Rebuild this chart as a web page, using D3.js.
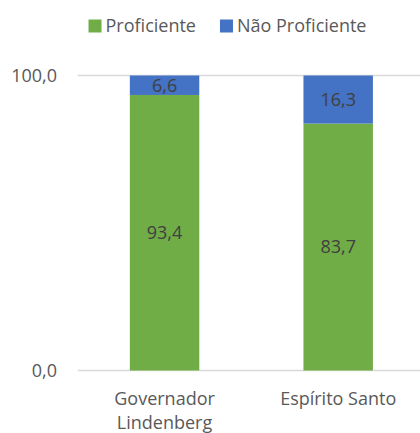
<!DOCTYPE html>
<html lang="pt">
	<head>
		<meta charset="UTF-8">
		<title>Proficiência</title>
		<script src="https://cdn.jsdelivr.net/npm/d3@7"></script>
		<style>
			body { margin: 0; background: #fff; }
			text { font-family: "Open Sans", sans-serif; }
		</style>
	</head>
	<body>
		<div id="chart"></div>
		<script>
			const categories = ["Governador Lindenberg", "Espírito Santo"];
			const proficiente = [93.4, 83.7];
			const naoProficiente = [6.6, 16.3];
			const seriesNames = ["Proficiente", "Não Proficiente"];
			const seriesColors = ["#70AD47", "#4472C4"];
			const yTicks = [0, 100];

			const w = 420;
			const h = 433;
			const plotLeft = 77.75;
			const plotRight = 425;
			const plotTop = 75.5;
			const plotBottom = 370.5;

			const svg = d3.select("#chart")
						  .append("svg")
						  .attr("width", w)
						  .attr("height", h);

			const ptBR = d3.formatLocale({ decimal: ",", thousands: ".", grouping: [3], currency: ["R$", ""] });
			const fmt = ptBR.format(".1f");

			const xScale = d3.scaleBand()
							 .domain(categories)
							 .range([plotLeft, plotRight])
							 .paddingInner(0.6)
							 .paddingOuter(0.3);

			const yScale = d3.scaleLinear()
							 .domain([0, 100])
							 .range([plotBottom, plotTop]);

			// stacked data
			const rows = categories.map((c, i) => ({ cat: c, Proficiente: proficiente[i], "Não Proficiente": naoProficiente[i] }));
			const stacked = d3.stack().keys(seriesNames)(rows);

			// gridlines
			svg.append("g")
			   .selectAll("line")
			   .data(yTicks)
			   .enter()
			   .append("line")
			   .attr("x1", plotLeft)
			   .attr("x2", w)
			   .attr("y1", d => yScale(d))
			   .attr("y2", d => yScale(d))
			   .attr("stroke", "#D9D9D9")
			   .attr("stroke-width", 1.5);

			// y labels
			svg.append("g")
			   .selectAll("text")
			   .data(yTicks)
			   .enter()
			   .append("text")
			   .attr("x", 57)
			   .attr("y", d => yScale(d))
			   .attr("dy", "0.35em")
			   .attr("text-anchor", "end")
			   .attr("fill", "#595959")
			   .style("font-size", "18px")
			   .text(d => fmt(d));

			// bars
			const layers = svg.append("g")
			   .selectAll("g")
			   .data(stacked)
			   .enter()
			   .append("g")
			   .attr("fill", (d, i) => seriesColors[i]);

			layers.selectAll("rect")
				  .data(d => d)
				  .enter()
				  .append("rect")
				  .attr("x", d => xScale(d.data.cat))
				  .attr("y", d => yScale(d[1]))
				  .attr("width", xScale.bandwidth())
				  .attr("height", d => yScale(d[0]) - yScale(d[1]));

			// value labels
			layers.selectAll("text")
				  .data(d => d)
				  .enter()
				  .append("text")
				  .attr("x", d => xScale(d.data.cat) + xScale.bandwidth() / 2)
				  .attr("y", d => (yScale(d[0]) + yScale(d[1])) / 2)
				  .attr("dy", "0.35em")
				  .attr("text-anchor", "middle")
				  .attr("fill", "#404040")
				  .style("font-size", "18px")
				  .text(d => fmt(d[1] - d[0]));

			// category labels, wrapped
			const catLabels = svg.append("g")
			   .selectAll("text")
			   .data(categories)
			   .enter()
			   .append("text")
			   .attr("x", d => xScale(d) + xScale.bandwidth() / 2)
			   .attr("y", 405)
			   .attr("text-anchor", "middle")
			   .attr("fill", "#595959")
			   .style("font-size", "18px");

			catLabels.each(function(d) {
				const el = d3.select(this);
				const words = d.split(" ");
				let line = [];
				let tspan = el.append("tspan").attr("x", el.attr("x")).attr("dy", 0);
				words.forEach(word => {
					line.push(word);
					tspan.text(line.join(" "));
					if (tspan.node().getComputedTextLength() > xScale.step() - 10 && line.length > 1) {
						line.pop();
						tspan.text(line.join(" "));
						line = [word];
						tspan = el.append("tspan").attr("x", el.attr("x")).attr("dy", "1.35em").text(word);
					}
				});
			});

			// legend
			const legend = svg.append("g");
			const items = legend.selectAll("g")
				.data(seriesNames)
				.enter()
				.append("g");

			items.append("rect")
				 .attr("width", 13)
				 .attr("height", 13)
				 .attr("y", 19.5)
				 .attr("fill", (d, i) => seriesColors[i]);

			items.append("text")
				 .attr("x", 17)
				 .attr("y", 26)
				 .attr("dy", "0.35em")
				 .attr("fill", "#595959")
				 .style("font-size", "18px")
				 .text(d => d);

			let xPos = 0;
			items.each(function() {
				const g = d3.select(this);
				g.attr("transform", `translate(${xPos}, 0)`);
				xPos += this.getBBox().width + 24;
			});
			const legendWidth = xPos - 24;
			legend.attr("transform", `translate(${227.5 - legendWidth / 2}, 0)`);
		</script>
	</body>
</html>
